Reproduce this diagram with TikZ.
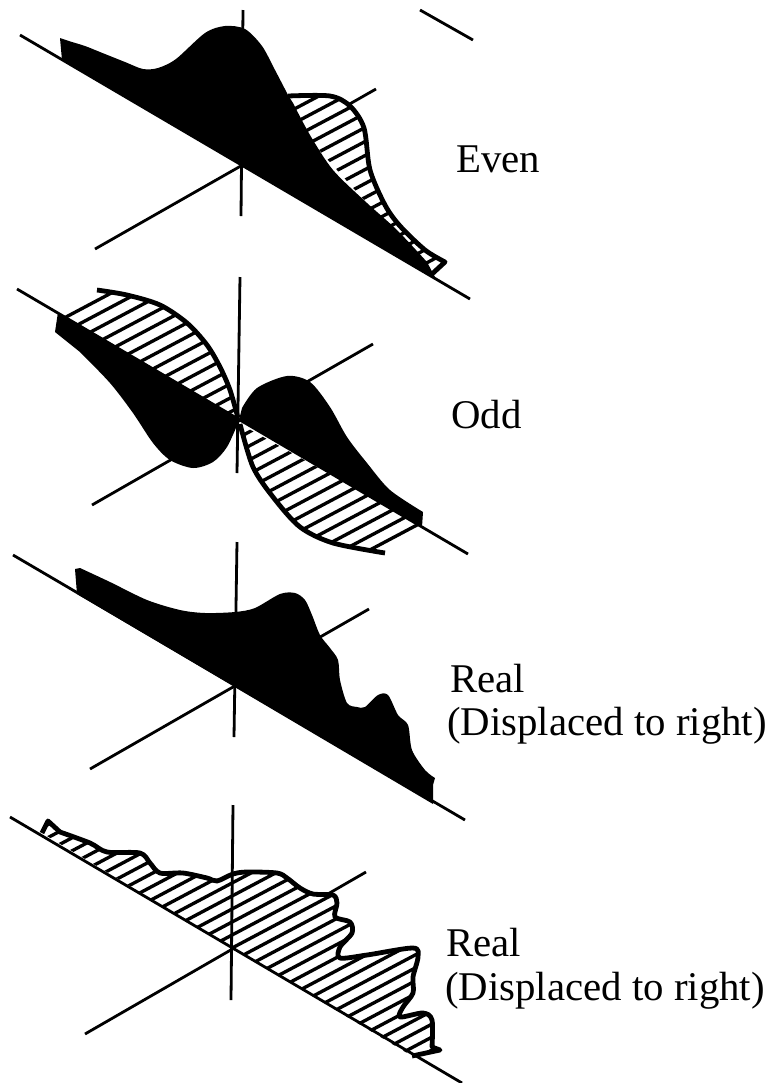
\documentclass[tikz,border=0pt]{standalone}
\usepackage{fontspec}
\setmainfont{Liberation Serif}
\usepackage{tikz}

% outlines, in pixels of the picture
\def\evenblack{(62,60) -- (60,38) -- plot[smooth] coordinates {(72,42) (85,46) (100,52) (125,62) (143,69) (158,68) (176,59) (205,33) (225,26) (245,29) (262,46) (275,70) (288,95)} -- plot[smooth] coordinates {(293,103) (310,135) (333,170) (367,203) (397,230) (427,262)} -- (436,279) -- cycle}
\def\evenedge{plot[smooth] coordinates {(288,96) (330,96) (350,106) (364,128) (370,170) (385,205) (400,226) (425,250) (445,262)} -- (432,274)}
\def\oddleftcurve{plot[smooth] coordinates {(97,290) (127,295) (160,305) (187,323) (207,345) (220,367) (230,390) (238,418)}}
\def\oddrightcurve{plot[smooth] coordinates {(240,424) (253,467) (273,497) (300,527) (333,543) (385,553)}}
\def\oddleftblack{(58,312) -- (55,332) -- plot[smooth] coordinates {(80,352) (110,383) (133,413) (153,443) (170,460) (193,468) (213,462) (227,447) (238,423)} -- (238,418) -- cycle}
\def\oddrightblack{plot[smooth] coordinates {(242,408) (257,388) (287,376) (310,382) (330,407) (347,437) (367,463) (390,490) (423,512)} -- (422,527) -- (239,420) -- cycle}
\def\realblack{(77,594) -- (75,569) -- plot[smooth] coordinates {(80,568) (110,582) (147,600) (180,610) (205,613) (235,612) (255,608) (280,594) (295,593) (305,600) (312,615) (320,635) (330,648) (338,660) (340,680) (347,703) (357,707) (365,707) (378,695) (388,695) (398,715) (408,725) (412,750) (425,770) (435,778)} -- (433,785) -- (433,804) -- cycle}
\def\realedge{(42,833) -- (48,821) -- plot[smooth] coordinates {(60,832) (90,843) (107,852) (140,853) (150,863) (160,873) (183,873) (207,878) (217,881) (233,874) (247,872) (277,873) (287,878) (300,888) (313,894) (333,895) (337,903) (335,917) (350,922) (352,933) (340,947) (340,958) (367,955) (413,948) (418,957) (413,977) (413,993) (403,1007) (400,1017) (423,1013) (432,1020) (432,1047)} -- (440,1050) -- (412,1056)}

% region, first and second hatch line, last hatch line
\newcommand{\hatchshape}[3]{%
    \begin{scope}
        \fill[white] #1;
        \clip #1;
        \foreach \c in {#2,...,#3}
            \draw[hatchline] (0,\c) -- (600,\c-318);
    \end{scope}
}

\begin{document}
\begin{tikzpicture}[x=0.75pt, y=-0.75pt,
    axisline/.style={line width=2.1pt},
    outline/.style={line width=3.6pt, line join=round},
    hatchline/.style={line width=2.5pt},
    label/.style={anchor=base west, inner sep=0pt, font=\fontsize{30.6}{33}\selectfont}]
    \useasboundingbox (0,0) rectangle (772,1083);

    % even
    \draw[axisline] (243,10) -- (241,216);
    \draw[axisline] (95,249) -- (376,89);
    \draw[axisline] (20,35) -- (470,299);
    \draw[axisline] (420,10) -- (473,40);
    \hatchshape{\evenedge -- (400,240) -- (310,140) -- cycle}{265,279}{505}
    \draw[outline] \evenedge;
    \fill[black] \evenblack;
    \node[label] (even) at (456,172) {Even};

    % odd
    \draw[axisline] (240,277) -- (237,473);
    \draw[axisline] (92,505) -- (373,344);
    \hatchshape{\oddleftcurve -- (60,316) -- cycle}{338,352}{550}
    \hatchshape{\oddrightcurve -- (421,525) -- cycle}{550,564}{760}
    \draw[axisline] (17,289) -- (468,554);
    \draw[outline] \oddleftcurve;
    \draw[outline] \oddrightcurve;
    \fill[black] \oddleftblack;
    \fill[black] \oddrightblack;
    \draw[axisline] (237,425) -- (237,473);
    \node[label] (odd) at (451,428) {Odd};

    % real, black
    \draw[axisline] (237,542) -- (234,737);
    \draw[axisline] (90,769) -- (369,609);
    \draw[axisline] (13,555) -- (465,820);
    \fill[black] \realblack;
    \node[label] (realone) at (450,692) {Real};
    \node[label] (shiftone) at (447,735) {(Displaced to right)};

    % real, hatched
    \draw[axisline] (85,1034) -- (366,872);
    \hatchshape{\realedge -- cycle}{850,863}{1290}
    \draw[axisline] (10,817) -- (462,1083);
    \draw[outline] \realedge;
    \draw[axisline] (233,805) -- (231,1000);
    \node[label] (realtwo) at (446,956) {Real};
    \node[label] (shifttwo) at (445,1000) {(Displaced to right)};
\end{tikzpicture}
\end{document}
